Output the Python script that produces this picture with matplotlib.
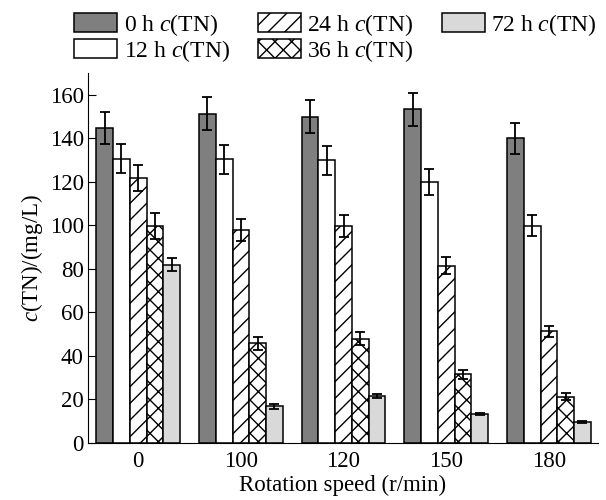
import numpy as np
import matplotlib
matplotlib.use("Agg")
import matplotlib.pyplot as plt

plt.rcParams["font.family"] = "Liberation Serif"
plt.rcParams["mathtext.fontset"] = "custom"
plt.rcParams["mathtext.rm"] = "Liberation Serif"
plt.rcParams["mathtext.it"] = "Liberation Serif:italic"
plt.rcParams["hatch.linewidth"] = 1.0

speeds = ["0", "100", "120", "150", "180"]
times = ["0 h", "12 h", "24 h", "36 h", "72 h"]

tn_0h = [144.7, 151.3, 150.0, 153.3, 140.0]
tn_12h = [130.7, 130.3, 129.8, 119.8, 99.9]
tn_24h = [121.8, 97.8, 99.8, 81.5, 51.4]
tn_36h = [99.6, 45.8, 47.8, 31.6, 21.3]
tn_72h = [81.8, 16.8, 21.7, 13.3, 9.8]

err_0h = [7.5, 7.5, 7.5, 7.6, 7.0]
err_12h = [6.5, 6.5, 6.5, 6.0, 5.0]
err_24h = [6.0, 5.0, 5.0, 4.0, 2.5]
err_36h = [6.0, 3.0, 3.0, 2.0, 1.5]
err_72h = [3.0, 1.0, 1.0, 0.5, 0.5]

series = [tn_0h, tn_12h, tn_24h, tn_36h, tn_72h]
errors = [err_0h, err_12h, err_24h, err_36h, err_72h]
faces = ["#7f7f7f", "white", "white", "white", "#d9d9d9"]
hatches = [None, None, "//", "xx", None]

fig = plt.figure(figsize=(6.06, 5.0), dpi=100)
ax = fig.add_axes([0.145, 0.114, 0.842, 0.74])

x = np.arange(len(speeds))
w = 0.1625
for i, (vals, errs) in enumerate(zip(series, errors)):
    pos = x + (i - 2) * w
    ax.bar(pos, vals, w, color=faces[i], edgecolor="black", linewidth=1.1,
           hatch=hatches[i], label=f"{times[i]} $c$(TN)", zorder=2)
    ax.errorbar(pos, vals, yerr=errs, fmt="none", ecolor="black",
                elinewidth=1.3, capsize=3.7, capthick=1.3, zorder=3)

ax.set_xlim(-0.49, 4.48)
ax.set_ylim(0, 170)
ax.set_xticks(x)
ax.set_xticklabels(speeds)
ax.set_yticks(np.arange(0, 161, 20))
ax.tick_params(axis="y", direction="in", length=6, labelsize=16.5, pad=3)
ax.tick_params(axis="x", length=0, labelsize=16.5, pad=6)
for s in ["top", "right"]:
    ax.spines[s].set_visible(False)
ax.set_xlabel("Rotation speed (r/min)", fontsize=16.5, labelpad=2)
ax.set_ylabel("$c$(TN)/(mg/L)", fontsize=16.5, labelpad=3)

fig.legend(loc="upper left", bbox_to_anchor=(74 / 606, 1 - 12 / 500), ncol=3,
           frameon=False, fontsize=17, handlelength=1.82, handleheight=0.85,
           handletextpad=0.28, columnspacing=1.2, labelspacing=0.0,
           borderpad=0, borderaxespad=0)

fig.savefig("out.png", dpi=100)
